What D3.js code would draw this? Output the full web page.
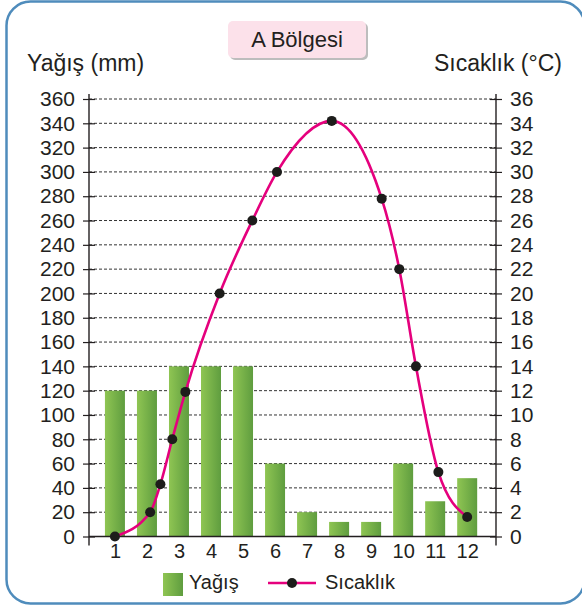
<!DOCTYPE html>
<html>
<head>
<meta charset="utf-8">
<script src="https://cdn.jsdelivr.net/npm/d3@7"></script>
<style>
  body { margin: 0; background: #fff; }
  text { font-family: "Liberation Sans", Arial, sans-serif; fill: #231f20; }
</style>
</head>
<body>
<svg id="chart" width="582" height="607"></svg>
<script>
// data
const months = [1, 2, 3, 4, 5, 6, 7, 8, 9, 10, 11, 12];
const rain = [120, 120, 140, 140, 140, 60, 20, 12, 12, 60, 29, 48];
// temperature points (the dots are not on month centres in the original)
const tempMonth = [1.0, 2.1, 2.42, 2.79, 3.2, 4.27, 5.29, 6.06, 7.77, 9.33, 9.88, 10.4, 11.1, 12.0];
const tempValue = [0, 2, 4.3, 8, 11.9, 20, 26, 30, 34.2, 27.8, 22, 14, 5.3, 1.6];
const rainTicks = d3.range(0, 361, 20);
const tempTicks = d3.range(0, 37, 2);

const svg = d3.select("#chart");
const plotL = 89, plotR = 496, plotT = 99, plotB = 536.5;

// frame
svg.append("rect")
    .attr("x", 6.5).attr("y", 1.5)
    .attr("width", 578).attr("height", 602)
    .attr("rx", 24)
    .attr("fill", "#fff")
    .attr("stroke", "#4f8cbc")
    .attr("stroke-width", 2.5);

// title box
svg.append("rect")
    .attr("x", 230).attr("y", 23).attr("width", 138).attr("height", 37)
    .attr("rx", 5).attr("fill", "#bdbdbd");
svg.append("rect")
    .attr("x", 228).attr("y", 21).attr("width", 138).attr("height", 37)
    .attr("rx", 5).attr("fill", "#fce1ea");
svg.append("text").attr("x", 297).attr("y", 47)
    .attr("text-anchor", "middle").attr("font-size", 22).text("A Bölgesi");

svg.append("text").attr("x", 27).attr("y", 71).attr("font-size", 23).text("Yağış (mm)");
svg.append("text").attr("x", 562).attr("y", 71).attr("text-anchor", "end")
    .attr("font-size", 23).text("Sıcaklık (°C)");

// scales
const x = d3.scaleLinear().domain([0.19, 12.9]).range([plotL, plotR]);
const yRain = d3.scaleLinear().domain([0, 360]).range([plotB, plotT]);
const yTemp = d3.scaleLinear().domain([0, 36]).range([plotB, plotT]);

// gridlines
svg.append("g")
    .selectAll("line")
    .data(rainTicks.filter(d => d > 0))
    .join("line")
    .attr("x1", plotL).attr("x2", plotR)
    .attr("y1", d => yRain(d)).attr("y2", d => yRain(d))
    .attr("stroke", "#333").attr("stroke-width", 1)
    .attr("stroke-dasharray", "3,2");

// gradient for bars
const grad = svg.append("defs").append("linearGradient")
    .attr("id", "barGrad").attr("x1", "0%").attr("x2", "100%");
grad.append("stop").attr("offset", "0%").attr("stop-color", "#8fc553");
grad.append("stop").attr("offset", "100%").attr("stop-color", "#5f9d3f");

// bars
const barW = 20;
svg.append("g")
    .selectAll("rect")
    .data(months)
    .join("rect")
    .attr("x", (d) => x(d) - barW / 2)
    .attr("y", (d, i) => yRain(rain[i]))
    .attr("width", barW)
    .attr("height", (d, i) => plotB - yRain(rain[i]))
    .attr("fill", "url(#barGrad)");

// axes
const leftAxis = d3.axisLeft(yRain).tickValues(rainTicks).tickSizeInner(6).tickSizeOuter(0).tickPadding(8);
const gl = svg.append("g").attr("transform", `translate(${plotL},0)`).call(leftAxis);
const rightAxis = d3.axisRight(yTemp).tickValues(tempTicks).tickSizeInner(6).tickSizeOuter(0).tickPadding(8);
const gr = svg.append("g").attr("transform", `translate(${plotR},0)`).call(rightAxis);
[gl, gr].forEach(g => {
    g.select(".domain").remove();
    g.selectAll(".tick line").attr("x1", -6).attr("x2", 6).attr("stroke", "#231f20").attr("stroke-width", 1.2);
    g.selectAll(".tick text").attr("font-size", 21).attr("font-family", "Liberation Sans, Arial, sans-serif").attr("fill", "#231f20");
});
[plotL, plotR].forEach(px => {
    svg.append("line").attr("x1", px).attr("x2", px)
        .attr("y1", plotT - 5).attr("y2", plotB + 9)
        .attr("stroke", "#231f20").attr("stroke-width", 1.4);
});
svg.append("line").attr("x1", plotL).attr("x2", plotR)
    .attr("y1", plotB).attr("y2", plotB)
    .attr("stroke", "#231f20").attr("stroke-width", 1.4);

const bottomAxis = d3.axisBottom(x).tickValues(months).tickSize(0).tickPadding(7);
const gb = svg.append("g").attr("transform", `translate(0,${plotB})`).call(bottomAxis);
gb.select(".domain").remove();
gb.selectAll(".tick text").attr("font-size", 20).attr("font-family", "Liberation Sans, Arial, sans-serif").attr("fill", "#231f20");

// temperature curve
const pts = tempMonth.map((m, i) => [m, tempValue[i]]);
const line = d3.line().x(d => x(d[0])).y(d => yTemp(d[1])).curve(d3.curveMonotoneX);
svg.append("path").datum(pts)
    .attr("d", line)
    .attr("fill", "none")
    .attr("stroke", "#e5007d")
    .attr("stroke-width", 2.6);
svg.append("g").selectAll("circle")
    .data(pts)
    .join("circle")
    .attr("cx", d => x(d[0])).attr("cy", d => yTemp(d[1]))
    .attr("r", 5).attr("fill", "#1d1d1b");

// legend
svg.append("rect").attr("x", 163).attr("y", 573).attr("width", 20).attr("height", 23).attr("fill", "url(#barGrad)");
svg.append("text").attr("x", 189).attr("y", 589).attr("font-size", 20).text("Yağış");
svg.append("line").attr("x1", 268).attr("x2", 316).attr("y1", 583).attr("y2", 583)
    .attr("stroke", "#e5007d").attr("stroke-width", 2.6);
svg.append("circle").attr("cx", 292).attr("cy", 583).attr("r", 5).attr("fill", "#1d1d1b");
svg.append("text").attr("x", 325).attr("y", 589).attr("font-size", 20).text("Sıcaklık");
</script>
</body>
</html>
